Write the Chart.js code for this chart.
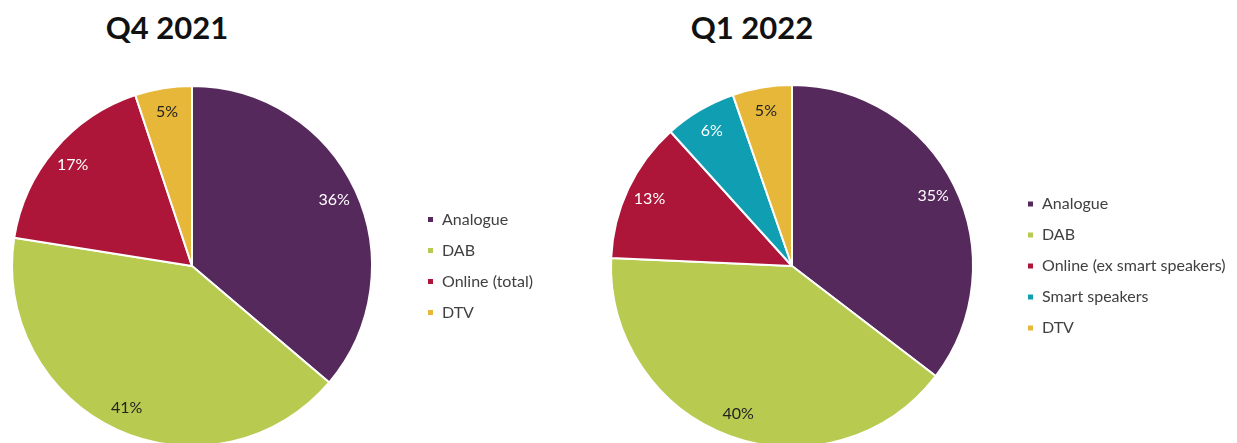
<!DOCTYPE html>
<html>
<head>
<meta charset="utf-8">
<script src="https://cdn.jsdelivr.net/npm/chart.js@4.4.1/dist/chart.umd.min.js"></script>
<style>
  html, body { margin: 0; padding: 0; background: #fff; }
  #wrap { position: relative; width: 1237px; height: 443px; overflow: hidden; font-family: Lato, sans-serif; }
  .title { position: absolute; top: 12px; font-size: 31px; line-height: 31px; font-weight: bold; color: #111; transform: translateX(-50%); white-space: nowrap; }
  canvas { position: absolute; top: 0; }
</style>
</head>
<body>
<div id="wrap">
  <div class="title" id="t1" style="left:167px"></div>
  <div class="title" id="t2" style="left:752px"></div>
  <canvas id="q4" height="470"></canvas>
  <canvas id="q1" height="470"></canvas>
</div>
<script>
// data (share of listening, %)
const q4Title = 'Q4 2021';
const q4Labels = ['Analogue', 'DAB', 'Online (total)', 'DTV'];
const q4Values = [36.2, 41.3, 17.4, 5.1];

const q1Title = 'Q1 2022';
const q1Labels = ['Analogue', 'DAB', 'Online (ex smart speakers)', 'Smart speakers', 'DTV'];
const q1Values = [35.4, 40.3, 12.6, 6.4, 5.3];

// colours
const purple = '#55295B', green = '#B8CB50', red = '#AD1639', teal = '#109EB3', gold = '#E6B738';
const q4Colors = [purple, green, red, gold];
const q1Colors = [purple, green, red, teal, gold];
const q4TextColors = ['#fff', '#222', '#fff', '#222'];
const q1TextColors = ['#fff', '#222', '#fff', '#fff', '#222'];

const FONT_SIZE = 16;
const LEG_PAD = 15;
const BOX = 7;

document.getElementById('t1').textContent = q4Title;
document.getElementById('t2').textContent = q1Title;

// percent labels inside each slice
const sliceLabels = {
  id: 'sliceLabels',
  afterDatasetsDraw(chart) {
    const ctx = chart.ctx;
    const ds = chart.data.datasets[0];
    const meta = chart.getDatasetMeta(0);
    ctx.save();
    ctx.font = FONT_SIZE + 'px Lato';
    ctx.textAlign = 'center';
    ctx.textBaseline = 'middle';
    meta.data.forEach((arc, i) => {
      const p = arc.getProps(['x', 'y', 'startAngle', 'endAngle', 'outerRadius'], true);
      const mid = (p.startAngle + p.endAngle) / 2;
      const r = p.outerRadius * 0.87;
      ctx.fillStyle = ds.labelColors[i];
      ctx.fillText(Math.round(ds.data[i]) + '%', p.x + Math.cos(mid) * r, p.y + Math.sin(mid) * r);
    });
    ctx.restore();
  }
};

// width the right-hand legend will take, so the canvas can be sized around it
function legendWidth(labels) {
  const ctx = document.createElement('canvas').getContext('2d');
  ctx.font = FONT_SIZE + 'px Lato';
  const w = Math.max(...labels.map(l => ctx.measureText(l).width));
  return LEG_PAD + BOX + FONT_SIZE / 2 + w + 10;
}

// cx, cy, r: where the pie should sit on the page
function makePie(id, labels, values, colors, textColors, cx, cy, r) {
  const canvas = document.getElementById(id);
  const areaW = 2 * (235 - LEG_PAD);
  const areaH = 2 * r + 2;
  const legW = legendWidth(labels);
  const width = Math.ceil(areaW + legW) + 2;
  canvas.width = width;
  canvas.style.left = (cx - areaW / 2) + 'px';
  const top = cy - areaH / 2;
  return new Chart(canvas, {
    type: 'pie',
    data: {
      labels: labels,
      datasets: [{
        data: values,
        backgroundColor: colors,
        borderColor: '#fff',
        borderWidth: 2,
        hoverOffset: 0,
        labelColors: textColors
      }]
    },
    options: {
      responsive: false,
      animation: false,
      devicePixelRatio: 1,
      layout: { padding: { top: top, bottom: 470 - top - areaH, left: 0, right: width - areaW - legW } },
      plugins: {
        legend: {
          position: 'right',
          labels: {
            boxWidth: BOX,
            boxHeight: BOX,
            padding: LEG_PAD,
            color: '#404040',
            font: { family: 'Lato', size: FONT_SIZE }
          }
        },
        tooltip: { enabled: false }
      }
    },
    plugins: [sliceLabels]
  });
}

makePie('q4', q4Labels, q4Values, q4Colors, q4TextColors, 192, 266, 180);
makePie('q1', q1Labels, q1Values, q1Colors, q1TextColors, 792, 266, 181);
</script>
</body>
</html>
